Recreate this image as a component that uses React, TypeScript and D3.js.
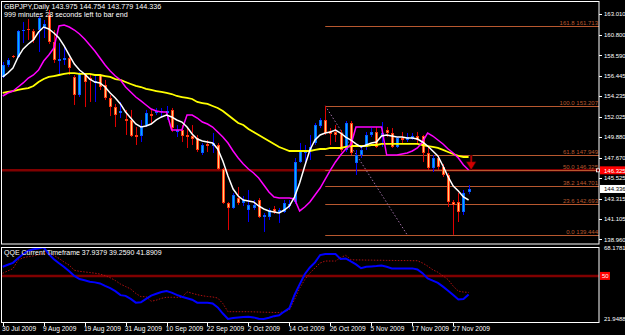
import React from 'react';
import * as d3 from 'd3';

// ---------- data ----------
const symbolTitle = 'GBPJPY,Daily  143.975 144.754 143.779 144.336';
const timerText = '999 minutes 28 seconds left to bar end';
const qqeTitle = 'QQE Current Timeframe 37.9379 39.2590 41.8909';

const dateLabels = ['30 Jul 2009', '9 Aug 2009', '19 Aug 2009', '31 Aug 2009', '10 Sep 2009', '22 Sep 2009', '2 Oct 2009', '14 Oct 2009', '26 Oct 2009', '5 Nov 2009', '17 Nov 2009', '27 Nov 2009'];
const dateLabelBars = [0, 8, 16, 24, 32, 40, 48, 56, 64, 72, 80, 88];

const opens = [
  156.29, 157.57, 158.53, 158.42, 161.20, 161.41, 161.20, 161.30, 161.62, 162.90,
  160.02, 157.99, 158.10, 158.31, 156.29, 154.37, 156.61, 156.18, 155.65, 156.50,
  155.43, 154.05, 153.08, 152.45, 151.80, 151.70, 150.10, 149.99, 151.06, 152.34,
  152.45, 152.55, 152.45, 152.77, 150.42, 150.63, 150.10, 149.99, 149.78, 148.18,
  149.14, 148.92, 149.03, 146.47, 142.84, 142.31, 143.37, 142.84, 142.09, 142.31,
  143.16, 141.35, 141.35, 142.20, 141.88, 141.88, 142.52, 142.95, 147.22, 148.18,
  148.50, 149.24, 151.06, 151.70, 150.52, 150.42, 150.31, 148.50, 151.38, 147.11,
  147.96, 148.82, 150.10, 150.42, 150.10, 150.63, 150.31, 148.82, 149.78, 149.56,
  149.67, 149.99, 149.99, 148.18, 146.58, 147.64, 146.68, 145.83, 142.95, 142.95,
  141.88, 143.975];
const highs = [
  157.89, 158.31, 158.63, 161.30, 162.16, 162.48, 161.41, 162.80, 162.37, 163.44,
  161.30, 159.92, 159.49, 158.53, 156.50, 156.82, 156.71, 156.50, 156.50, 156.61,
  155.97, 154.37, 153.41, 153.62, 152.77, 152.77, 150.95, 151.70, 152.77, 152.77,
  152.98, 152.98, 153.19, 152.98, 151.16, 151.16, 150.95, 151.16, 150.10, 149.24,
  149.56, 150.31, 149.24, 146.58, 142.95, 143.91, 144.55, 143.59, 144.23, 143.16,
  143.37, 141.77, 142.31, 142.52, 142.31, 143.16, 143.16, 147.64, 149.24, 149.03,
  150.10, 151.38, 151.91, 153.207, 150.84, 151.16, 150.63, 151.59, 151.59, 148.50,
  149.03, 150.42, 150.84, 150.95, 151.48, 150.95, 150.84, 149.88, 150.42, 150.31,
  150.31, 150.42, 150.10, 148.82, 147.96, 147.96, 147.00, 146.04, 143.16, 143.91,
  144.23, 144.754];
const lows = [
  156.18, 157.35, 158.31, 158.31, 159.92, 160.24, 159.92, 158.95, 160.45, 159.81,
  157.78, 156.50, 157.57, 156.50, 153.30, 154.15, 153.08, 153.62, 153.62, 154.90,
  153.83, 152.12, 150.95, 151.91, 150.10, 149.88, 149.03, 149.35, 150.95, 151.38,
  152.23, 151.91, 151.70, 150.42, 149.88, 149.35, 148.71, 149.03, 148.28, 147.96,
  148.28, 148.18, 146.36, 142.73, 139.96, 142.20, 142.63, 142.52, 140.81, 142.09,
  141.24, 139.75, 141.03, 141.67, 140.71, 141.77, 142.20, 142.73, 147.11, 146.90,
  147.43, 149.03, 150.84, 150.10, 149.03, 149.35, 148.28, 148.28, 147.96, 145.83,
  147.64, 148.50, 149.88, 148.71, 148.82, 149.88, 148.71, 148.71, 149.24, 149.35,
  149.56, 149.24, 147.22, 146.36, 146.15, 146.36, 145.62, 142.41, 139.444, 140.81,
  141.56, 143.779];
const closes = [
  157.57, 158.10, 158.42, 161.20, 161.30, 161.30, 160.24, 162.58, 161.94, 160.02,
  158.10, 158.21, 158.31, 157.25, 154.37, 156.71, 155.75, 155.97, 155.86, 155.22,
  154.05, 153.08, 152.23, 152.66, 151.59, 149.99, 149.88, 150.95, 152.45, 152.12,
  152.66, 152.66, 152.66, 150.84, 150.63, 149.99, 149.88, 149.67, 148.50, 149.03,
  148.92, 149.24, 146.47, 142.84, 142.31, 143.69, 142.84, 143.16, 142.63, 142.63,
  141.35, 141.56, 142.09, 141.88, 142.09, 142.84, 142.73, 147.22, 148.50, 148.50,
  148.82, 151.16, 151.70, 150.31, 150.20, 150.10, 148.50, 151.38, 148.18, 147.96,
  148.50, 150.10, 150.42, 148.82, 150.31, 150.31, 148.82, 149.78, 149.56, 149.88,
  149.99, 149.56, 148.18, 146.58, 147.64, 146.68, 145.83, 142.95, 142.63, 141.88,
  143.91, 144.336];

const maWhite = [
  156.29, 156.71, 157.25, 158.42, 159.28, 159.81, 160.24, 161.09, 161.62, 161.41,
  160.98, 160.45, 159.60, 158.63, 157.67, 157.03, 156.61, 156.07, 155.75, 155.65,
  155.22, 154.58, 154.05, 153.41, 152.55, 151.91, 151.27, 150.95, 151.06, 151.27,
  151.70, 152.02, 152.23, 152.02, 151.70, 151.48, 150.95, 150.20, 149.67, 149.46,
  149.35, 149.24, 148.60, 147.32, 145.72, 144.33, 143.59, 143.16, 143.05, 142.95,
  142.52, 142.20, 141.99, 141.88, 141.77, 142.09, 142.52, 143.48, 144.97, 146.79,
  148.50, 149.56, 150.10, 150.31, 150.42, 150.63, 150.31, 149.88, 149.56, 149.14,
  148.82, 149.03, 149.24, 149.35, 149.99, 150.10, 149.99, 149.88, 149.88, 149.78,
  149.78, 149.67, 149.35, 148.92, 148.39, 147.86, 146.79, 145.62, 144.65, 144.12,
  143.48, 143.16];
const maMagenta = [
  154.26, 154.58, 154.79, 155.22, 155.65, 156.18, 156.50, 157.03, 157.99, 158.63,
  159.38, 161.73, 161.84, 161.62, 161.30, 160.88, 160.34, 159.70, 159.06, 158.31,
  157.57, 156.93, 156.39, 155.97, 155.22, 154.69, 154.15, 153.73, 153.30, 152.87,
  152.66, 152.55, 152.55, 150.63, 150.63, 150.63, 152.23, 152.23, 151.91, 151.48,
  151.27, 150.95, 150.42, 149.88, 149.24, 148.39, 147.64, 147.00, 146.47, 146.04,
  145.51, 144.76, 144.01, 143.48, 143.37, 143.37, 143.37, 143.27, 141.99, 142.41,
  142.95, 143.69, 144.44, 145.40, 146.36, 147.22, 147.96, 148.60, 149.03, 150.95,
  150.95, 150.95, 150.95, 150.95, 150.95, 147.96, 147.96, 147.96, 148.07, 148.18,
  148.39, 148.71, 149.35, 150.31, 149.99, 149.56, 149.14, 148.60, 148.18, 147.64,
  146.90, 146.36];
const maYellow = [
  154.58, 154.69, 154.79, 154.90, 155.01, 155.11, 155.33, 155.75, 156.07, 156.29,
  156.39, 156.50, 156.61, 156.71, 156.71, 156.61, 156.61, 156.61, 156.50, 156.50,
  156.39, 156.29, 156.07, 155.97, 155.75, 155.54, 155.33, 155.22, 155.01, 154.90,
  154.79, 154.69, 154.58, 154.47, 154.26, 154.15, 154.05, 153.94, 153.62, 153.51,
  153.41, 153.19, 152.98, 152.66, 152.23, 151.80, 151.38, 151.16, 150.74, 150.42,
  150.10, 149.78, 149.46, 149.14, 148.82, 148.60, 148.39, 148.39, 148.39, 148.39,
  148.39, 148.50, 148.60, 148.60, 148.71, 148.71, 148.71, 148.82, 148.92, 148.92,
  148.92, 148.92, 149.03, 149.03, 149.14, 149.14, 149.14, 149.14, 149.14, 149.14,
  149.14, 149.14, 149.03, 148.92, 148.82, 148.71, 148.50, 148.28, 148.07, 147.86,
  147.75, 147.75];

const qqeMain = [
  56.0, 57.3, 58.5, 61.5, 64.3, 66.4, 67.4, 67.9, 68.6, 64.2,
  60.9, 58.2, 55.8, 53.0, 50.0, 48.0, 47.2, 46.2, 45.8, 45.1,
  43.5, 42.0, 40.1, 37.5, 37.0, 35.0, 32.6, 32.8, 35.0, 37.2,
  38.4, 39.5, 40.2, 39.1, 37.7, 36.4, 35.5, 34.5, 32.6, 32.6,
  32.6, 32.0, 29.5, 25.5, 22.0, 22.6, 23.0, 23.2, 23.4, 23.0,
  22.1, 22.0, 22.8, 23.8, 24.4, 26.8, 29.0, 37.6, 44.5, 51.1,
  55.5, 58.8, 63.6, 64.3, 64.3, 64.2, 61.0, 61.4, 59.4, 57.5,
  55.0, 55.9, 56.2, 56.4, 56.8, 56.0, 54.9, 54.9, 54.9, 54.9,
  54.9, 54.2, 51.8, 48.4, 46.9, 45.5, 43.0, 40.4, 37.6, 34.6,
  35.0, 37.94];
const qqeSignal = [
  51.7, 53.3, 54.7, 60.3, 61.8, 62.6, 63.0, 63.8, 64.6, 64.9,
  63.4, 61.4, 59.0, 57.0, 53.7, 53.0, 52.6, 52.2, 51.8, 51.2,
  50.2, 48.8, 47.0, 44.7, 43.1, 41.5, 38.6, 36.5, 36.5, 33.5,
  34.2, 35.4, 36.1, 36.1, 36.1, 36.1, 39.6, 38.7, 37.8, 37.1,
  36.6, 36.3, 35.6, 32.0, 26.7, 26.7, 26.7, 26.7, 26.7, 26.6,
  26.5, 26.4, 26.3, 26.2, 26.1, 26.8, 27.8, 34.6, 42.0, 47.6,
  51.8, 55.2, 58.4, 59.7, 59.7, 59.7, 62.0, 63.4, 60.6, 60.4,
  60.4, 60.3, 60.3, 60.2, 60.2, 60.1, 60.1, 60.0, 60.0, 60.0,
  59.9, 59.9, 58.4, 56.4, 54.0, 52.4, 50.0, 47.6, 43.3, 40.1,
  39.5, 39.26];

const priceTicks = [163.010, 160.800, 158.590, 156.445, 154.235, 152.025, 149.880, 147.670, 145.525, 143.315, 141.105, 138.960];
const priceMin = 138.960;
const priceMax = 163.010;
const qqeMin = 21.9488;
const qqeMax = 68.1781;
const qqeLevel = 50;

const fibLevels = [0.0, 23.6, 38.2, 50.0, 61.8, 100.0, 161.8];
const fibPrices = [139.444, 142.693, 144.701, 146.325, 147.949, 153.207, 161.713];
const fibStartBar = 63;
const fibTrendEndBar = 79;
const hLinePrice = 146.325;
const bidPrice = 144.336;
const arrowBar = 91.5;
const arrowFrom = 147.96;
const arrowTo = 146.36;

// ---------- component ----------
const FONT = '"Liberation Sans", Arial, sans-serif';

export default function App() {
  const W = 625;
  const H = 335;
  const L = 2, R = 599;
  const mainTop = 2, mainBottom = 244;
  const subTop = 247, subBottom = 322;

  const x = d3.scaleLinear().domain([0, 91]).range([2.7, 468.6]);
  const y = d3.scaleLinear().domain([priceMin, priceMax]).range([239.35, 14]);
  const yq = d3.scaleLinear().domain([qqeMin, qqeMax]).range([319, 248]);

  const line = (arr: number[], sc: d3.ScaleLinear<number, number>) =>
    d3.line<number>().x((_, i) => x(i)).y((d) => sc(d))(arr) || '';

  const cx = (i: number) => Math.round(x(i)) + 0.5;

  const candles = opens.map((o, i) => {
    const c = closes[i];
    const bull = c >= o;
    const xc = cx(i);
    const yT = Math.round(y(Math.max(o, c)));
    const yB = Math.max(yT + 1, Math.round(y(Math.min(o, c))));
    const wick = bull ? '#0000FF' : '#E00000';
    const outer = bull ? '#0A5CFF' : '#FF3A10';
    const inner = bull ? '#00B4FF' : '#FFCF7A';
    return (
      <g key={i}>
        <line x1={xc} x2={xc} y1={y(highs[i])} y2={y(lows[i])} stroke={wick} strokeWidth={1} />
        <rect x={xc - 1.5} y={yT} width={3} height={yB - yT} fill={outer} />
        {yB - yT > 2 && <rect x={xc - 0.5} y={yT + 1} width={1} height={yB - yT - 2} fill={inner} />}
      </g>
    );
  });

  const fibColor = '#B8582F';
  const axisText = '#FFFFFF';

  const arrowX = x(arrowBar);
  const aTop = y(arrowFrom);
  const aTip = y(arrowTo);
  const aMid = aTop + (aTip - aTop) * 0.45;

  return (
    <div style={{ position: 'absolute', left: 0, top: 0 }}>
      <svg width={W} height={H} style={{ display: 'block', background: '#000' }} fontFamily={FONT}>
        <defs>
          <clipPath id="mainClip"><rect x={L} y={mainTop} width={R - L} height={mainBottom - mainTop} /></clipPath>
          <clipPath id="subClip"><rect x={L} y={subTop} width={R - L} height={subBottom - subTop} /></clipPath>
        </defs>
        <rect x={0} y={0} width={W} height={H} fill="#000" />

        {/* main pane */}
        <g clipPath="url(#mainClip)">
          <line x1={L} x2={R} y1={y(hLinePrice)} y2={y(hLinePrice)} stroke="#800000" strokeWidth={2.5} />
          {fibPrices.map((p, k) => (
            <g key={k}>
              <line x1={x(fibStartBar)} x2={R} y1={Math.round(y(p)) + 0.5} y2={Math.round(y(p)) + 0.5} stroke={fibColor} strokeWidth={1} />
              <text x={R - 1} y={Math.round(y(p)) - 1} fill={fibColor} fontSize={6} textAnchor="end">
                {fibLevels[k].toFixed(1)} {p.toFixed(3)}
              </text>
            </g>
          ))}
          <line x1={x(fibStartBar)} y1={y(fibPrices[5])} x2={x(fibTrendEndBar)} y2={y(fibPrices[0])} stroke="#A070A8" strokeWidth={1} strokeDasharray="1.5,2" />
          {candles}
          <path d={line(maYellow, y)} fill="none" stroke="#FFFF00" strokeWidth={1.8} />
          <path d={line(maMagenta, y)} fill="none" stroke="#FF00FF" strokeWidth={1.5} />
          <path d={line(maWhite, y)} fill="none" stroke="#FFFFFF" strokeWidth={1.5} />
          <path d={`M${arrowX - 1},${aTop} L${arrowX + 1},${aTop} L${arrowX + 1},${aMid} L${arrowX + 5},${aMid} L${arrowX},${aTip} L${arrowX - 5},${aMid} L${arrowX - 1},${aMid} Z`} fill="#D00000" stroke="#300000" strokeWidth={0.6} />
        </g>
        <rect x={1.5} y={1.5} width={R - 1.5} height={mainBottom - 1.5} fill="none" stroke="#FFFFFF" strokeWidth={1} />

        <text x={4} y={9} fill="#FFFFFF" fontSize={7.2}>{symbolTitle}</text>
        <text x={4} y={17} fill="#FFFFFF" fontSize={7.2}>{timerText}</text>

        {/* price axis */}
        {priceTicks.map((p, k) => (
          <g key={k}>
            <line x1={R} x2={R + 3} y1={Math.round(y(p)) + 0.5} y2={Math.round(y(p)) + 0.5} stroke="#FFFFFF" />
            <text x={604} y={y(p) + 2.2} fill={axisText} fontSize={6}>{p.toFixed(3)}</text>
          </g>
        ))}
        <rect x={600} y={y(hLinePrice) - 4} width={25} height={8} fill="#FF0000" />
        <text x={604} y={y(hLinePrice) + 2.2} fill="#FFFFFF" fontSize={6}>{hLinePrice.toFixed(3)}</text>
        <rect x={596.5} y={y(hLinePrice) - 1.5} width={3} height={3} fill="#800000" stroke="#FFFFFF" strokeWidth={0.8} />
        <rect x={600} y={y(bidPrice) - 4} width={25} height={8} fill="#FFFFFF" />
        <text x={604} y={y(bidPrice) + 2.2} fill="#000000" fontSize={6}>{bidPrice.toFixed(3)}</text>

        {/* sub pane */}
        <g clipPath="url(#subClip)">
          <line x1={L} x2={R} y1={yq(qqeLevel)} y2={yq(qqeLevel)} stroke="#800000" strokeWidth={2.5} />
          <path d={line(qqeSignal, yq)} fill="none" stroke="#B01010" strokeWidth={1} strokeDasharray="1.5,1.5" />
          <path d={line(qqeMain, yq)} fill="none" stroke="#0000FF" strokeWidth={2} />
        </g>
        <rect x={1.5} y={subTop + 0.5} width={R - 1.5} height={subBottom - subTop} fill="none" stroke="#FFFFFF" strokeWidth={1} />
        <text x={4} y={255} fill="#FFFFFF" fontSize={7}>{qqeTitle}</text>
        <text x={604} y={yq(qqeMax) + 2.2} fill={axisText} fontSize={6}>{qqeMax.toFixed(4)}</text>
        <text x={604} y={yq(qqeMin) + 2.2} fill={axisText} fontSize={6}>{qqeMin.toFixed(4)}</text>
        <rect x={600} y={yq(qqeLevel) - 4} width={10} height={8} fill="#FF0000" />
        <text x={602} y={yq(qqeLevel) + 2.2} fill="#FFFFFF" fontSize={6}>{qqeLevel}</text>

        {/* time axis */}
        {dateLabelBars.map((b, k) => (
          <g key={k}>
            <line x1={cx(b)} x2={cx(b)} y1={subBottom + 1} y2={subBottom + 4} stroke="#FFFFFF" />
            <text x={x(b) - 0.7} y={331} fill={axisText} fontSize={6.6}>{dateLabels[k]}</text>
          </g>
        ))}
      </svg>
    </div>
  );
}
